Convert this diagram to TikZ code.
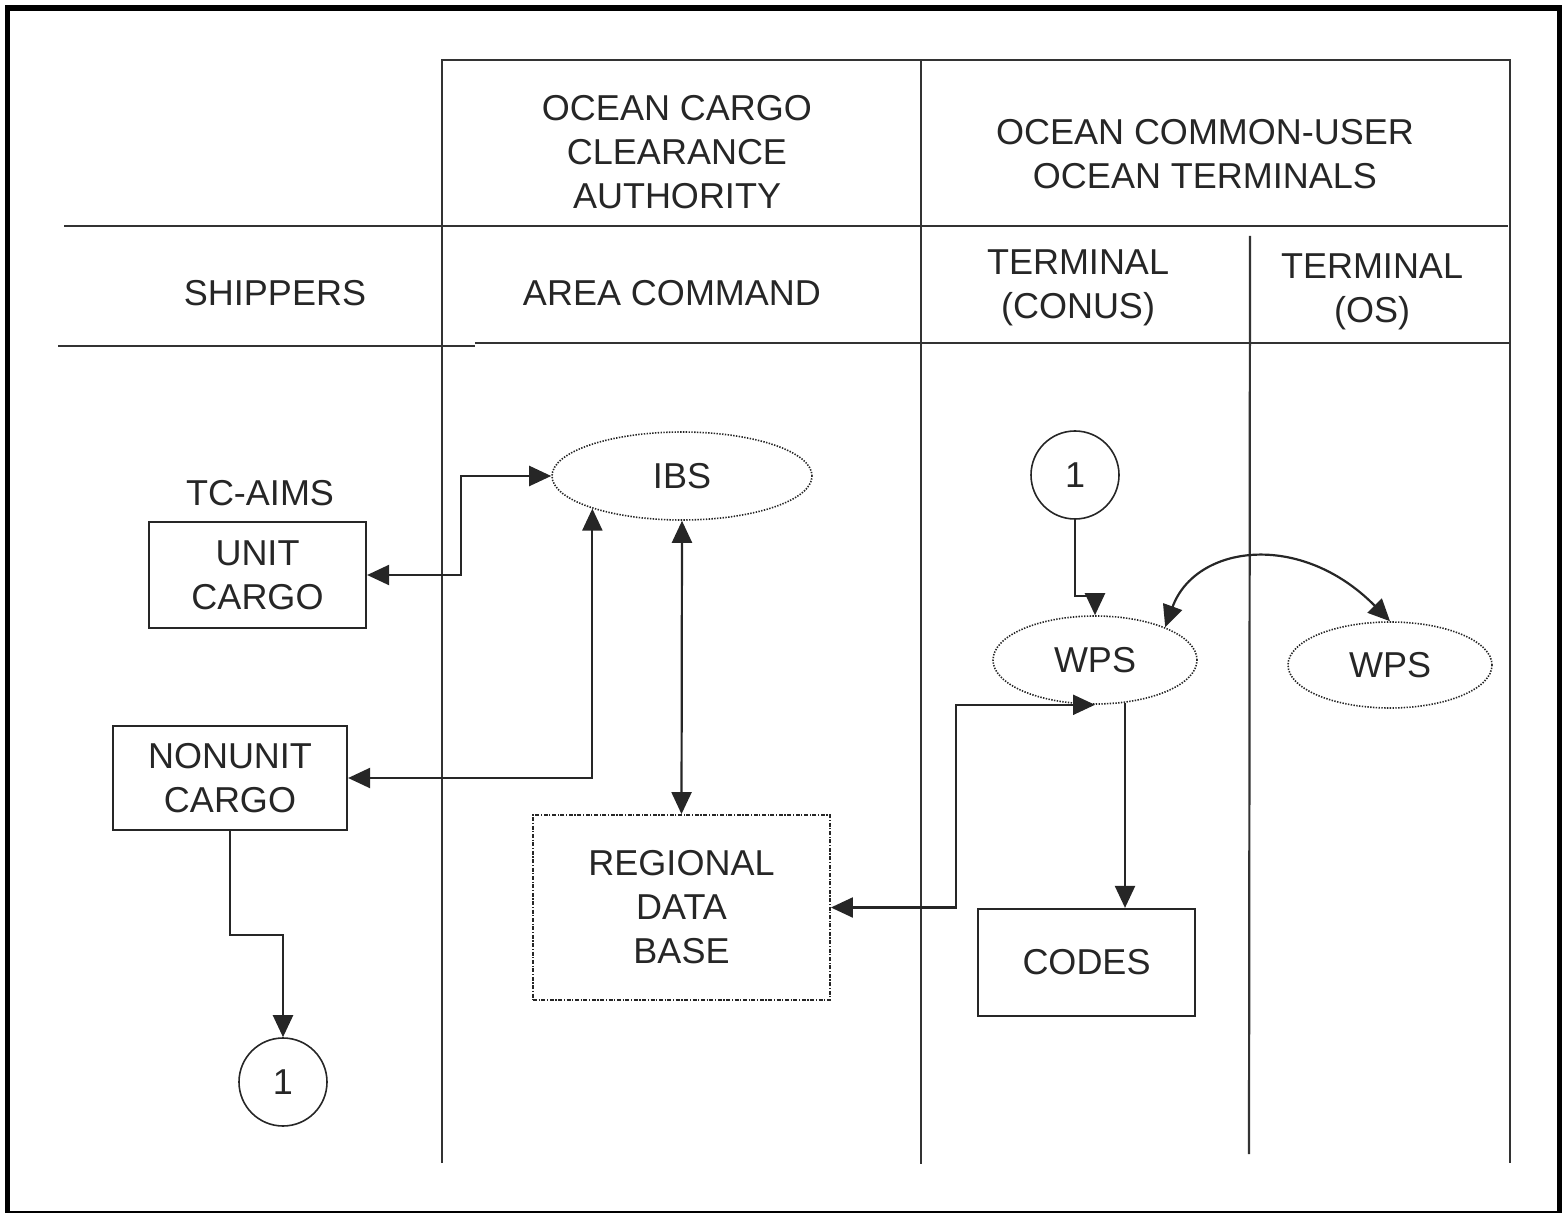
\documentclass[tikz,border=0pt]{standalone}
\usepackage{fontspec}
\setmainfont{Liberation Sans}
\usetikzlibrary{shapes.geometric,arrows.meta}
\begin{document}
\begin{tikzpicture}[x=0.5pt,y=-0.5pt,
  lane/.style={line width=1.1pt, black!80},
  txt/.style={font=\fontsize{18}{22}\selectfont, align=center, inner sep=0pt, text=black!85},
  box/.style={txt, draw=black!85, line width=1.1pt, rectangle},
  dotell/.style={txt, draw=black!85, ellipse, line width=0.8pt, dash pattern=on 0.7pt off 0.7pt},
  dotbox/.style={txt, draw=black!85, rectangle, line width=0.9pt, dash pattern=on 2pt off 0.8pt on 0.6pt off 0.8pt},
  conn/.style={line width=1.1pt, black!85, >={Triangle[length=11pt,width=10pt]}},
  circ/.style={txt, draw=black!85, circle, line width=0.8pt, minimum size=44pt}
]
\useasboundingbox (0,0) rectangle (1562,1213);
% outer frame
\draw[line width=2.6pt, black] (7.5,8) rectangle (1559.5,1214);
% lanes
\draw[lane] (442,1163) -- (442,60) -- (1510,60) -- (1510,1163);
\draw[lane] (921,60) -- (921,1164);
\draw[lane] (64,226) -- (1508,226);
\draw[lane] (58,346) -- (475,346);
\draw[lane] (475,343) -- (1510,343);
\draw[lane] (1250,236) -- (1249,1154);
% headers
\node[txt] (hocca) at (677,152) {OCEAN CARGO\\CLEARANCE\\AUTHORITY};
\node[txt] (hocu) at (1205,154) {OCEAN COMMON-USER\\OCEAN TERMINALS};
\node[txt] (hship) at (275,293) {SHIPPERS};
\node[txt] (harea) at (672,293) {AREA COMMAND};
\node[txt] (hconus) at (1078,288) {TERMINAL\\(CONUS)};
\node[txt] (hos) at (1372,292) {TERMINAL\\(OS)};
% nodes
\node[txt] (tcaims) at (260,493) {TC-AIMS};
\node[box, minimum width=108.5pt, minimum height=53pt] (unit) at (257.5,575) {UNIT\\CARGO};
\node[box, minimum width=117pt, minimum height=52pt] (nonunit) at (230,778) {NONUNIT\\CARGO};
\node[dotell, minimum width=130pt, minimum height=44pt] (ibs) at (682,476) {IBS};
\node[dotbox, minimum width=148.5pt, minimum height=92.5pt] (rdb) at (681.5,907.5) {REGIONAL\\DATA\\BASE};
\node[circ] (c1a) at (1075,475) {1};
\node[dotell, minimum width=102pt, minimum height=44pt] (wps1) at (1095,660) {WPS};
\node[dotell, minimum width=102pt, minimum height=43pt] (wps2) at (1390,665) {WPS};
\node[box, minimum width=108.5pt, minimum height=53.5pt] (codes) at (1086.5,962.5) {CODES};
\node[circ] (c1b) at (283,1082) {1};
% connectors
\draw[conn, <->] (unit.east) -- ++(94,0) |- (ibs.west);
\draw[conn, <->] (nonunit.east) -| (ibs.200);
\draw[conn, <->] (ibs.south) -- (rdb.north);
\draw[conn, <->] (rdb.east) -- ++(125,0) |- (wps1.south);
\draw[conn, ->] (wps1.305) -- (wps1.305 |- codes.north);
\draw[conn, ->] (c1a.south) -- ++(0,76) -| (wps1.north);
\draw[conn, <->] (wps1.25) .. controls (1195,545) and (1300,530) .. (wps2.north);
\draw[conn, ->] (nonunit.south) -- ++(0,104) -| (c1b.north);
\end{tikzpicture}
\end{document}
